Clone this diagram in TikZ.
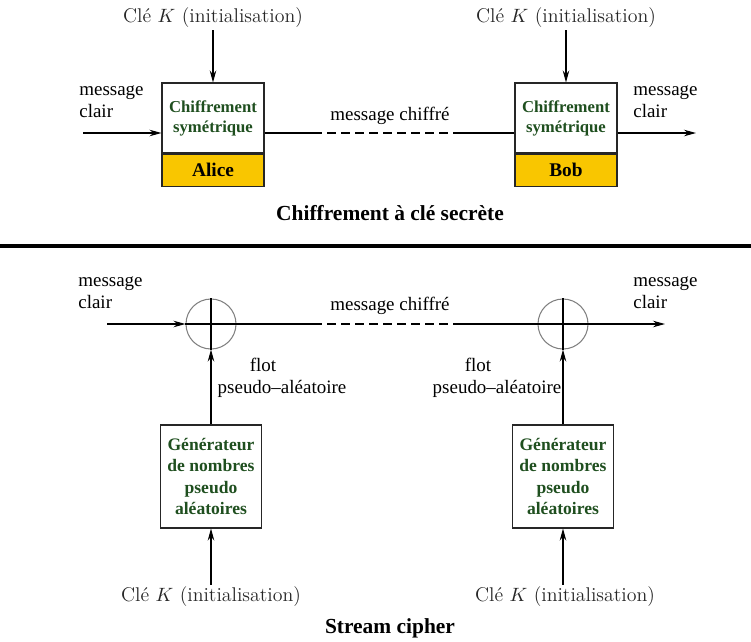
\documentclass[tikz,border=0pt]{standalone}
\usepackage{fontspec}
\newfontfamily\timesfont{Liberation Serif}
\usepackage{tikz}
\usetikzlibrary{arrows.meta,positioning,calc}
\definecolor{CipherGold}{HTML}{F9C600}
\definecolor{CipherGreen}{HTML}{1F4F1F}
\definecolor{CipherGray}{HTML}{808080}
\tikzset{
  cipherbox/.style={draw=black!85,line width=0.6pt,align=center,minimum width=20.4mm,minimum height=14mm,inner sep=2pt,font=\timesfont\bfseries\fontsize{9.5}{11.4}\selectfont,text=CipherGreen,fill=white},
  namebox/.style={draw=black!85,line width=0.6pt,fill=CipherGold,minimum width=20.4mm,minimum height=6.4mm,inner sep=0pt,font=\timesfont\bfseries\fontsize{11}{12}\selectfont},
  genbox/.style={draw=black!85,line width=0.6pt,align=center,minimum width=20.2mm,minimum height=20.6mm,inner sep=2pt,font=\timesfont\bfseries\fontsize{10}{12.3}\selectfont,text=CipherGreen},
  xorsum/.style={circle,draw=CipherGray,line width=0.6pt,minimum size=10mm,inner sep=0pt},
  keylabel/.style={font=\fontsize{11.3}{13}\selectfont,text=black!85,inner sep=1pt},
  msgtext/.style={font=\timesfont\fontsize{10.8}{12.3}\selectfont,inner sep=0pt},
  titletext/.style={font=\timesfont\bfseries\fontsize{12.2}{14}\selectfont},
  msgarrow/.style={-{Stealth[length=2.4mm,width=1.3mm]},line width=0.6pt},
  msgline/.style={line width=0.6pt},
  gapline/.style={line width=0.6pt,dash pattern=on 1.7mm off 1.1mm}
}

\begin{document}
\begin{tikzpicture}[x=0.2mm,y=-0.2mm]
\useasboundingbox (0,0) rectangle (751,641);
% chiffrement a cle secrete
\node[cipherbox] (alice) at (213,118) {Chiffrement\\symétrique};
\node[namebox,anchor=north] (alicename) at (alice.south) {Alice};
\node[cipherbox] (bob) at (566,118) {Chiffrement\\symétrique};
\node[namebox,anchor=north] (bobname) at (bob.south) {Bob};
\node[keylabel] (keyalice) at (213,18) {Clé $K$ (initialisation)};
\node[keylabel] (keybob) at (566,18) {Clé $K$ (initialisation)};
\node[msgtext,align=left,anchor=west] (clairin) at (79,102) {message\\clair};
\node[msgtext,align=left,anchor=west] (clairout) at (633,102) {message\\clair};
\node[msgtext] (chiffre) at (390,116) {message chiffré};
\coordinate (inA) at (83,133);
\coordinate (outA) at (696,133);
\coordinate (dashA) at (313,133);
\coordinate (dashB) at (458,133);
\draw[msgarrow] (keyalice) -- (alice);
\draw[msgarrow] (keybob) -- (bob);
\draw[msgarrow] (inA) -- (inA -| alice.west);
\draw[msgline] (alice.east |- dashA) -- (dashA);
\draw[gapline] (dashA) -- (dashB);
\draw[msgline] (dashB) -- (dashB -| bob.west);
\draw[msgarrow] (bob.east |- outA) -- (outA);
\node[titletext] (titlesecret) at (390,213) {Chiffrement à clé secrète};
\draw[line width=2.4pt] (0,246) -- (751,246);
% stream cipher
\node[xorsum] (xorA) at (211,324) {};
\node[xorsum] (xorB) at (563,324) {};
\node[genbox] (genA) at (211,476.5) {Générateur\\de nombres\\pseudo\\aléatoires};
\node[genbox] (genB) at (563,476.5) {Générateur\\de nombres\\pseudo\\aléatoires};
\node[keylabel] (keygenA) at (211,597) {Clé $K$ (initialisation)};
\node[keylabel] (keygenB) at (565,597) {Clé $K$ (initialisation)};
\node[msgtext,align=left,anchor=west] (clairinB) at (78,293) {message\\clair};
\node[msgtext,align=left,anchor=west] (clairoutB) at (633,293) {message\\clair};
\node[msgtext] (chiffreB) at (390,306) {message chiffré};
\node[msgtext,align=center] (flotA) at (282,378) {flot\hspace*{7.6mm}\\pseudo–aléatoire};
\node[msgtext,align=center] (flotB) at (497,378) {flot\hspace*{7.6mm}\\pseudo–aléatoire};
\coordinate (inB) at (107,324);
\coordinate (outB) at (665,324);
\coordinate (dashC) at (313,324);
\coordinate (dashD) at (458,324);
\draw[msgarrow] (inB) -- (xorA);
\draw[msgline] (xorA.north) -- (xorA.south) (xorA.west) -- (dashC);
\draw[gapline] (dashC) -- (dashD);
\draw[msgline] (dashD) -- (xorB.east) (xorB.north) -- (xorB.south);
\draw[msgarrow] (xorB.east) -- (outB);
\draw[msgarrow] (genA) -- (xorA);
\draw[msgarrow] (genB) -- (xorB);
\draw[msgarrow] (keygenA) -- (genA);
\draw[msgarrow] (genB |- keygenB.north) -- (genB);
\node[titletext] (titlestream) at (390,628) {Stream cipher};
\end{tikzpicture}
\end{document}
